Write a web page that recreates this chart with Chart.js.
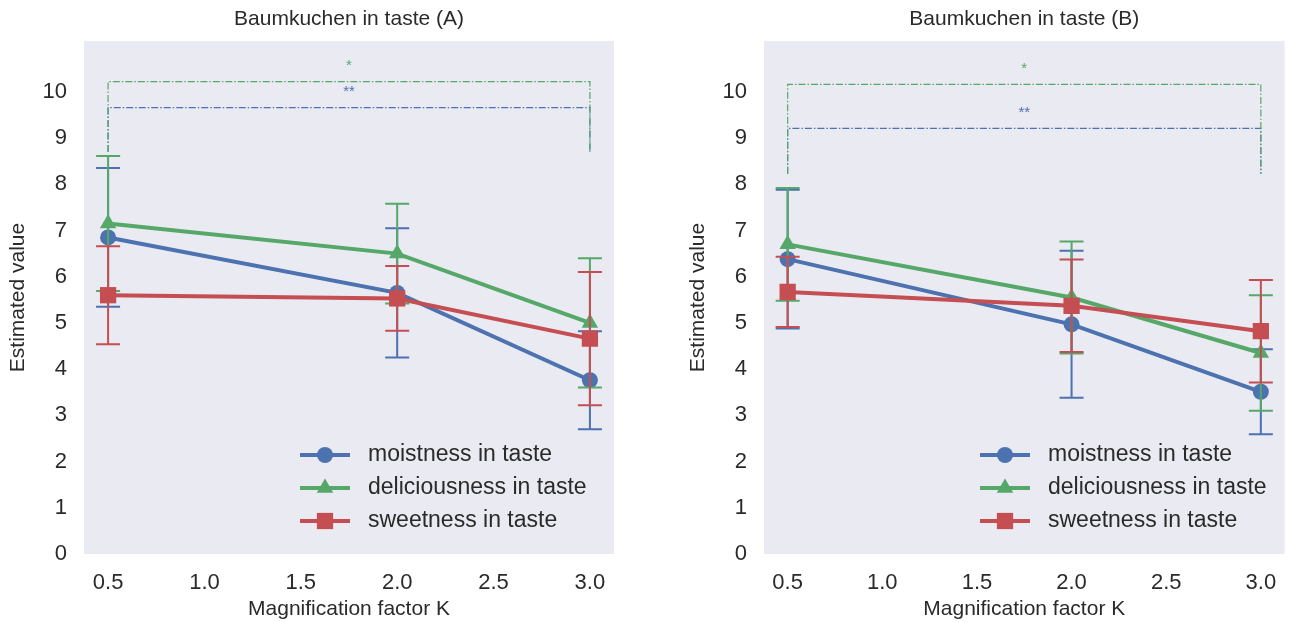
<!DOCTYPE html>
<html lang="en">
<head>
<meta charset="UTF-8">
<title>Baumkuchen in taste</title>
<script src="https://cdn.jsdelivr.net/npm/chart.js"></script>
<style>
    body { margin: 0; background: #fff; }
    .panel { position: absolute; top: 0; width: 648px; height: 622px; }
</style>
</head>
<body>
<div class="panel" style="left:0"><canvas id="chartA" width="648" height="622"></canvas></div>
<div class="panel" style="left:648px"><canvas id="chartB" width="648" height="622"></canvas></div>

<script>
// magnification factor K (x values)
const kFactor = [0.5, 2.0, 3.0];
const seriesNames = ['moistness in taste', 'deliciousness in taste', 'sweetness in taste'];

// panel A: means and error half-widths
const moistA = [6.85, 5.65, 3.76];
const moistErrA = [1.5, 1.4, 1.06];
const deliciousA = [7.15, 6.5, 5.0];
const deliciousErrA = [1.46, 1.08, 1.4];
const sweetA = [5.6, 5.53, 4.66];
const sweetErrA = [1.06, 0.7, 1.44];

// panel B
const moistB = [6.38, 4.97, 3.51];
const moistErrB = [1.5, 1.59, 0.92];
const deliciousB = [6.7, 5.55, 4.35];
const deliciousErrB = [1.22, 1.21, 1.25];
const sweetB = [5.67, 5.37, 4.82];
const sweetErrB = [0.76, 1.0, 1.11];

// significance brackets: [from K, to K, top level, foot level, label y]
const sigGreenA = [0.5, 3.0, 10.22, 8.7, 10.56];
const sigBlueA = [0.5, 3.0, 9.66, 8.7, 10.0];
const sigGreenB = [0.5, 3.0, 10.16, 8.23, 10.5];
const sigBlueB = [0.5, 3.0, 9.21, 8.23, 9.54];
const sigLabels = ['*', '**'];

const yTicks = [0, 1, 2, 3, 4, 5, 6, 7, 8, 9, 10];
const xTicks = [0.5, 1.0, 1.5, 2.0, 2.5, 3.0];

const BLUE = '#4C72B0', GREEN = '#55A868', RED = '#C44E52';
const FONT = '"Liberation Sans", Arial, sans-serif';
Chart.defaults.font.family = FONT;
Chart.defaults.color = '#2a2a2a';

function pts(ys) {
    return kFactor.map((k, i) => ({ x: k, y: ys[i] }));
}
function bracketPts(b) {
    return [{ x: b[0], y: b[3] }, { x: b[0], y: b[2] }, { x: b[1], y: b[2] }, { x: b[1], y: b[3] }];
}

// plot background
const bgPlugin = {
    id: 'bg',
    beforeDraw(chart) {
        const a = chart.chartArea, ctx = chart.ctx;
        ctx.save();
        ctx.fillStyle = '#EAEAF2';
        ctx.fillRect(a.left, a.top, a.right - a.left, a.bottom - a.top);
        ctx.restore();
    }
};

// error bars, drawn just below each series line
const errPlugin = {
    id: 'errbars',
    beforeDatasetDraw(chart, args) {
        const ds = chart.data.datasets[args.index];
        if (!ds.err) return;
        const ctx = chart.ctx, xs = chart.scales.x, ys = chart.scales.y;
        ctx.save();
        ctx.strokeStyle = ds.borderColor;
        ctx.lineWidth = 2;
        ds.data.forEach((p, i) => {
            const x = xs.getPixelForValue(p.x);
            const y1 = ys.getPixelForValue(p.y + ds.err[i]);
            const y2 = ys.getPixelForValue(p.y - ds.err[i]);
            ctx.beginPath();
            ctx.moveTo(x, y1); ctx.lineTo(x, y2);
            ctx.moveTo(x - 12, y1); ctx.lineTo(x + 12, y1);
            ctx.moveTo(x - 12, y2); ctx.lineTo(x + 12, y2);
            ctx.stroke();
        });
        ctx.restore();
    }
};

// stars above brackets and the legend inside the plot
const annoPlugin = {
    id: 'anno',
    afterDatasetsDraw(chart) {
        const ctx = chart.ctx, xs = chart.scales.x, ys = chart.scales.y, a = chart.chartArea;
        ctx.save();
        ctx.textAlign = 'center';
        ctx.textBaseline = 'middle';
        ctx.font = '15px ' + FONT;
        chart.data.datasets.forEach(ds => {
            if (!ds.sig) return;
            ctx.fillStyle = ds.borderColor;
            ctx.fillText(ds.sig, xs.getPixelForValue((ds.data[1].x + ds.data[2].x) / 2), ys.getPixelForValue(ds.labelY));
        });
        // legend
        const lx = a.left + 216;
        const rows = [a.bottom - 99, a.bottom - 66, a.bottom - 33];
        const series = chart.data.datasets.filter(d => d.err);
        series.forEach((ds, i) => {
            const y = rows[i];
            ctx.strokeStyle = ds.borderColor;
            ctx.fillStyle = ds.borderColor;
            ctx.lineWidth = 4;
            ctx.beginPath(); ctx.moveTo(lx, y); ctx.lineTo(lx + 50, y); ctx.stroke();
            Chart.helpers.drawPoint(ctx, { pointStyle: ds.pointStyle, radius: ds.pointRadius, rotation: 0, borderWidth: 0 }, lx + 25, y);
            ctx.fillStyle = '#2a2a2a';
            ctx.textAlign = 'left';
            ctx.font = '23px ' + FONT;
            ctx.fillText(ds.label, lx + 68, y);
        });
        ctx.restore();
    }
};

function makeChart(id, title, m, me, d, de, s, se, gBr, bBr, padLeft, padRight) {
    const line = (label, color, data, err, style, r, order) => ({
        label, data: pts(data), err, borderColor: color, backgroundColor: color,
        borderWidth: 4, pointStyle: style, pointRadius: r, pointHoverRadius: r,
        pointBorderWidth: 0, tension: 0, order
    });
    const bracket = (color, b, sig) => ({
        label: '', data: bracketPts(b), sig, labelY: b[4], borderColor: color,
        borderWidth: 1.2, borderDash: [7, 2, 1.5, 2], pointRadius: 0, tension: 0, order: 5
    });
    return new Chart(document.getElementById(id), {
        type: 'line',
        data: {
            datasets: [
                line(seriesNames[0], BLUE, m, me, 'circle', 8, 3),
                line(seriesNames[1], GREEN, d, de, 'triangle', 9.5, 2),
                line(seriesNames[2], RED, s, se, 'rect', 11.5, 1),
                bracket(GREEN, gBr, sigLabels[0]),
                bracket(BLUE, bBr, sigLabels[1])
            ]
        },
        options: {
            responsive: false,
            animation: false,
            layout: { padding: { left: padLeft, right: padRight, top: 0, bottom: 0 } },
            plugins: {
                legend: { display: false },
                tooltip: { enabled: false },
                title: {
                    display: true, text: title, fullSize: false,
                    font: { size: 21, weight: 'normal' }, color: '#2a2a2a',
                    padding: { top: 7, bottom: 8.8 }
                }
            },
            scales: {
                x: {
                    type: 'linear', min: 0.375, max: 3.125,
                    grid: { display: false, drawTicks: false }, border: { display: false },
                    afterBuildTicks: sc => { sc.ticks = xTicks.map(v => ({ value: v })); },
                    ticks: { font: { size: 22 }, padding: 16, callback: v => v.toFixed(1) },
                    afterFit: sc => { sc.height = 68; },
                    title: { display: true, text: 'Magnification factor K', font: { size: 21 }, padding: { top: 0, bottom: 0 } }
                },
                y: {
                    min: 0, max: 11.1,
                    grid: { display: false, drawTicks: false }, border: { display: false },
                    afterBuildTicks: sc => { sc.ticks = yTicks.map(v => ({ value: v })); },
                    ticks: { font: { size: 22 }, padding: 17 },
                    afterFit: sc => { sc.width = 84; },
                    title: { display: true, text: 'Estimated value', font: { size: 21 }, padding: { top: 6, bottom: 0 } }
                }
            }
        },
        plugins: [bgPlugin, errPlugin, annoPlugin]
    });
}

makeChart('chartA', 'Baumkuchen in taste (A)', moistA, moistErrA, deliciousA, deliciousErrA, sweetA, sweetErrA, sigGreenA, sigBlueA, 0, 34);
makeChart('chartB', 'Baumkuchen in taste (B)', moistB, moistErrB, deliciousB, deliciousErrB, sweetB, sweetErrB, sigGreenB, sigBlueB, 32, 2);
</script>
</body>
</html>
